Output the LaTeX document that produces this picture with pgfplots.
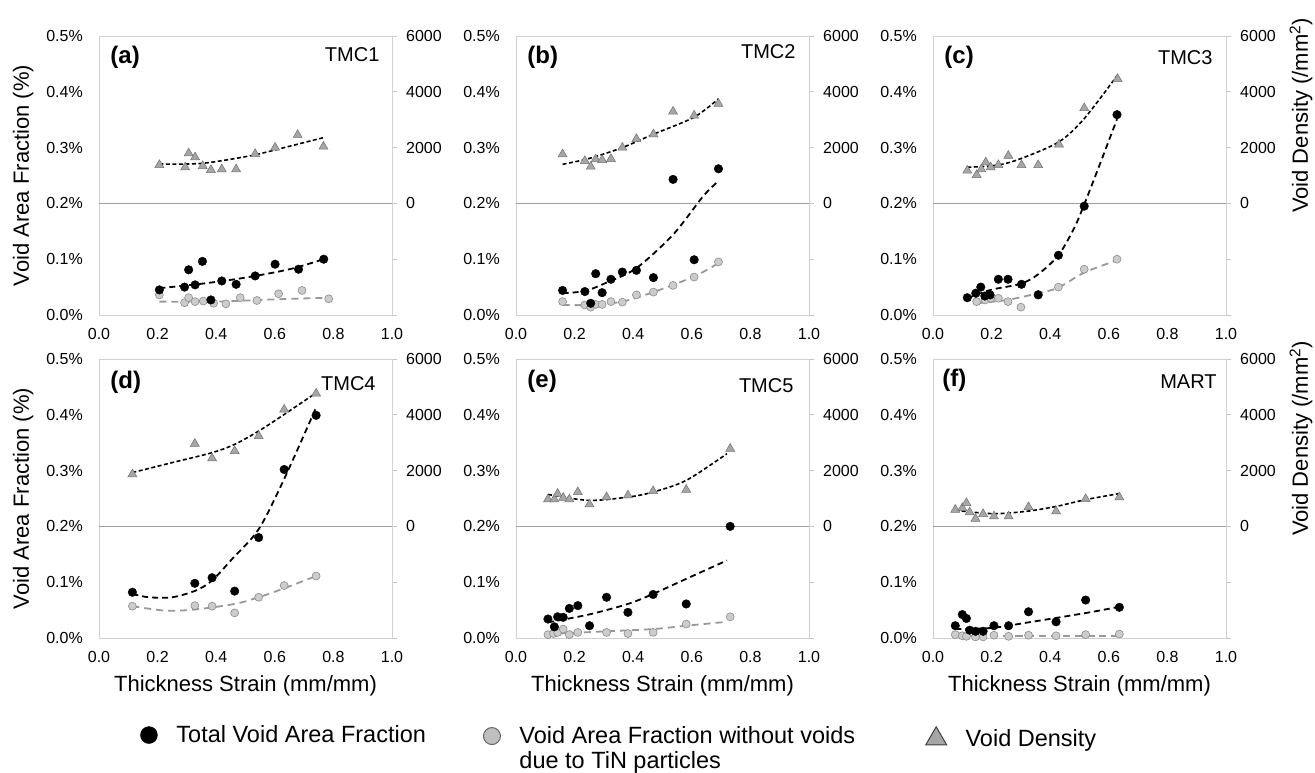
\documentclass[border=0pt]{standalone}
\usepackage{fontspec}
\setmainfont{Liberation Sans}
\usepackage{pgfplots}
\pgfplotsset{compat=1.18}

\newcommand{\tickfont}{\fontsize{16}{19}\selectfont}
\newcommand{\labfont}{\fontsize{22}{26}\selectfont}
\newcommand{\legfont}{\fontsize{23.5}{25}\selectfont}

\tikzset{
  plab/.style={anchor=west, font=\bfseries\fontsize{24}{28}\selectfont},
  pname/.style={anchor=east, font=\fontsize{20}{24}\selectfont},
}

\pgfplotsset{
  /pgf/number format/assume math mode=true,
  /pgf/number format/set thousands separator={},
  panel/.style={scale only axis, width=293pt, height=279pt, xmin=0, xmax=1, clip=false},
  leftax/.style={panel, ymin=0, ymax=0.5,
    ytick={0,0.1,0.2,0.3,0.4,0.5},
    yticklabel={\pgfmathprintnumber[fixed,fixed zerofill,precision=1]{\tick}\%},
    xtick={0,0.2,0.4,0.6,0.8,1},
    xticklabel={\pgfmathprintnumber[fixed,fixed zerofill,precision=1]{\tick}},
    major tick length=0pt,
    axis line style={draw=black!18, line width=0.8pt},
    tick label style={font=\tickfont},
    yticklabel style={inner sep=0pt}, yticklabel shift=16pt,
    xticklabel style={inner sep=0pt}, xticklabel shift=13pt,
    extra y ticks={0.2}, extra y tick labels={},
    extra y tick style={grid=major, major grid style={draw=black!38, line width=1pt}},
    label style={font=\labfont},
    ylabel style={at={(axis description cs:-0.259,0.5)}, anchor=center},
    xlabel style={at={(axis description cs:0.5,-0.172)}, anchor=center}},
  rightax/.style={panel, axis x line=none, axis y line*=right,
    ymin=-4000, ymax=6000,
    ytick={-4000,-2000,0,2000,4000,6000},
    yticklabels={,,0,2000,4000,6000},
    tick align=outside, major tick length=5pt,
    y axis line style={draw=black!18, line width=0.8pt},
    ytick style={draw=black!22, line width=0.8pt},
    yticklabel style={font=\tickfont, inner sep=0pt}, yticklabel shift=9pt,
    label style={font=\labfont},
    ylabel style={at={(axis description cs:1.256,0.715)}, anchor=center}},
  blk/.style={only marks, mark=*, mark size=4.3pt, mark options={draw=black, fill=black}},
  gry/.style={only marks, mark=*, mark size=4pt, mark options={draw=black!45, fill=black!20, line width=0.6pt}},
  tri/.style={only marks, mark=triangle*, mark size=5.2pt, mark options={draw=black!55, fill=black!35, line width=0.5pt}},
  blkfit/.style={no marks, smooth, black, line width=1.8pt, dash pattern=on 6pt off 4pt},
  gryfit/.style={no marks, smooth, black!40, line width=1.8pt, dash pattern=on 7pt off 5pt},
  trifit/.style={no marks, smooth, black, line width=1.6pt, dash pattern=on 4pt off 2.5pt},
  legax/.style={hide axis, scale only axis, width=1pt, height=1pt, xmin=0, xmax=1, ymin=0, ymax=1, anchor=center,
    legend image code/.code={\draw[##1] plot coordinates {(0pt,0pt)};},
    legend style={at={(0.5,0.5)}, anchor=north west, yshift=8.4pt, draw=none, fill=none, inner sep=0pt,
      font=\legfont, nodes={inner sep=0pt},
      /tikz/every odd column/.append style={column sep=19pt}}},
}

\begin{document}
\begin{tikzpicture}
\path[use as bounding box] (0,0) rectangle (1315pt,773pt);

% ---------- (a) TMC1 ----------
\begin{axis}[leftax, at={(99pt,458pt)}, ylabel={Void Area Fraction (\%)}]
\addplot[gry] coordinates {(0.206,0.036)(0.292,0.022)(0.306,0.031)(0.328,0.024)(0.356,0.025)(0.391,0.021)(0.433,0.020)(0.482,0.031)(0.539,0.026)(0.613,0.038)(0.693,0.044)(0.784,0.029)};
\addplot[blk] coordinates {(0.206,0.045)(0.292,0.050)(0.306,0.081)(0.328,0.054)(0.353,0.096)(0.382,0.027)(0.419,0.061)(0.468,0.055)(0.533,0.070)(0.601,0.091)(0.681,0.082)(0.767,0.100)};
\addplot[gryfit] coordinates {(0.206,0.024)(0.4,0.024)(0.6,0.028)(0.784,0.031)};
\addplot[blkfit] coordinates {(0.206,0.048)(0.35,0.056)(0.5,0.067)(0.65,0.082)(0.767,0.100)};
\node[plab] at (rel axis cs:0.027,0.925) {(a)};
\node[pname] at (rel axis cs:0.969,0.935) {TMC1};
\end{axis}
\begin{axis}[rightax, at={(99pt,458pt)}]
\addplot[tri] coordinates {(0.206,1377)(0.294,1293)(0.306,1796)(0.328,1653)(0.354,1341)(0.382,1198)(0.419,1222)(0.468,1222)(0.533,1772)(0.601,2000)(0.678,2455)(0.766,2036)};
\addplot[trifit] coordinates {(0.206,1413)(0.354,1437)(0.533,1737)(0.601,1916)(0.767,2359)};
\end{axis}

% ---------- (b) TMC2 ----------
\begin{axis}[leftax, at={(516pt,458pt)}]
\addplot[gry] coordinates {(0.159,0.024)(0.235,0.018)(0.255,0.014)(0.272,0.019)(0.294,0.019)(0.324,0.024)(0.363,0.023)(0.411,0.036)(0.469,0.041)(0.536,0.053)(0.608,0.068)(0.691,0.095)};
\addplot[blk] coordinates {(0.159,0.044)(0.235,0.042)(0.255,0.021)(0.272,0.074)(0.294,0.040)(0.324,0.064)(0.363,0.077)(0.411,0.080)(0.469,0.067)(0.536,0.243)(0.608,0.099)(0.691,0.262)};
\addplot[gryfit] coordinates {(0.159,0.018)(0.252,0.018)(0.363,0.024)(0.469,0.041)(0.608,0.069)(0.691,0.093)};
\addplot[blkfit] coordinates {(0.159,0.039)(0.235,0.043)(0.309,0.058)(0.411,0.084)(0.536,0.144)(0.639,0.213)(0.691,0.240)};
\node[plab] at (rel axis cs:0.027,0.925) {(b)};
\node[pname] at (rel axis cs:0.966,0.943) {TMC2};
\end{axis}
\begin{axis}[rightax, at={(516pt,458pt)}]
\addplot[tri] coordinates {(0.159,1760)(0.235,1521)(0.255,1317)(0.272,1581)(0.294,1557)(0.324,1593)(0.363,2000)(0.411,2311)(0.469,2479)(0.536,3293)(0.608,3150)(0.691,3569)};
\addplot[trifit] coordinates {(0.159,1401)(0.252,1617)(0.363,2000)(0.469,2479)(0.608,3090)(0.691,3749)};
\end{axis}

% ---------- (c) TMC3 ----------
\begin{axis}[leftax, at={(933pt,458pt)}]
\addplot[gry] coordinates {(0.149,0.024)(0.178,0.027)(0.197,0.030)(0.223,0.030)(0.256,0.024)(0.300,0.014)(0.359,0.037)(0.428,0.050)(0.516,0.082)(0.628,0.100)};
\addplot[blk] coordinates {(0.117,0.031)(0.146,0.039)(0.163,0.050)(0.177,0.034)(0.195,0.036)(0.223,0.064)(0.256,0.064)(0.302,0.055)(0.359,0.036)(0.428,0.107)(0.516,0.195)(0.628,0.359)};
\addplot[gryfit] coordinates {(0.149,0.021)(0.254,0.027)(0.359,0.039)(0.428,0.049)(0.516,0.076)(0.628,0.098)};
\addplot[blkfit] coordinates {(0.117,0.030)(0.197,0.045)(0.300,0.056)(0.359,0.073)(0.428,0.107)(0.482,0.156)(0.516,0.198)(0.573,0.275)(0.628,0.351)};
\node[plab] at (rel axis cs:0.027,0.925) {(c)};
\node[pname] at (rel axis cs:0.966,0.922) {TMC3};
\end{axis}
\begin{axis}[rightax, at={(933pt,458pt)}, ylabel={Void Density (/mm\textsuperscript{2})}]
\addplot[tri] coordinates {(0.117,1174)(0.149,1020)(0.165,1222)(0.180,1471)(0.197,1293)(0.223,1376)(0.257,1708)(0.302,1376)(0.359,1376)(0.430,2111)(0.516,3416)(0.630,4460)};
\addplot[trifit] coordinates {(0.117,1293)(0.223,1376)(0.302,1613)(0.430,2206)(0.516,3037)(0.630,4603)};
\end{axis}

% ---------- (d) TMC4 ----------
\begin{axis}[leftax, at={(99pt,135pt)}, ylabel={Void Area Fraction (\%)}, xlabel={Thickness Strain (mm/mm)}]
\addplot[gry] coordinates {(0.114,0.057)(0.327,0.058)(0.386,0.057)(0.463,0.045)(0.545,0.073)(0.632,0.094)(0.741,0.111)};
\addplot[blk] coordinates {(0.114,0.082)(0.327,0.098)(0.386,0.108)(0.463,0.084)(0.545,0.180)(0.632,0.302)(0.741,0.399)};
\addplot[gryfit] coordinates {(0.114,0.057)(0.227,0.049)(0.327,0.051)(0.463,0.061)(0.545,0.073)(0.632,0.089)(0.741,0.111)};
\addplot[blkfit] coordinates {(0.114,0.079)(0.170,0.073)(0.250,0.073)(0.330,0.085)(0.386,0.103)(0.455,0.142)(0.545,0.195)(0.632,0.285)(0.741,0.413)};
\node[plab] at (rel axis cs:0.027,0.918) {(d)};
\node[pname] at (rel axis cs:0.956,0.911) {TMC4};
\end{axis}
\begin{axis}[rightax, at={(99pt,135pt)}]
\addplot[tri] coordinates {(0.114,1869)(0.327,2964)(0.386,2440)(0.463,2702)(0.545,3238)(0.632,4190)(0.741,4762)};
\addplot[trifit] coordinates {(0.114,1929)(0.250,2286)(0.386,2643)(0.463,2940)(0.545,3417)(0.632,4012)(0.741,4786)};
\end{axis}

% ---------- (e) TMC5 ----------
\begin{axis}[leftax, at={(516pt,135pt)}, xlabel={Thickness Strain (mm/mm)}]
\addplot[gry] coordinates {(0.109,0.006)(0.128,0.008)(0.142,0.010)(0.161,0.016)(0.182,0.006)(0.211,0.010)(0.309,0.010)(0.382,0.008)(0.468,0.010)(0.581,0.025)(0.731,0.038)};
\addplot[blk] coordinates {(0.109,0.034)(0.131,0.020)(0.142,0.038)(0.161,0.037)(0.182,0.053)(0.211,0.058)(0.251,0.022)(0.309,0.073)(0.382,0.046)(0.468,0.078)(0.581,0.061)(0.731,0.200)};
\addplot[gryfit] coordinates {(0.109,0.007)(0.309,0.012)(0.468,0.016)(0.581,0.022)(0.720,0.029)};
\addplot[blkfit] coordinates {(0.109,0.028)(0.248,0.042)(0.382,0.061)(0.468,0.079)(0.581,0.106)(0.720,0.139)};
\node[plab] at (rel axis cs:0.027,0.921) {(e)};
\node[pname] at (rel axis cs:0.959,0.903) {TMC5};
\end{axis}
\begin{axis}[rightax, at={(516pt,135pt)}]
\addplot[tri] coordinates {(0.109,968)(0.131,968)(0.142,1171)(0.161,1027)(0.182,968)(0.211,1231)(0.251,789)(0.309,1051)(0.382,1111)(0.468,1266)(0.581,1314)(0.731,2784)};
\addplot[trifit] coordinates {(0.109,1147)(0.248,932)(0.382,1051)(0.468,1231)(0.581,1649)(0.720,2605)};
\end{axis}

% ---------- (f) MART ----------
\begin{axis}[leftax, at={(933pt,135pt)}, xlabel={Thickness Strain (mm/mm)}]
\addplot[gry] coordinates {(0.076,0.006)(0.100,0.004)(0.114,0.003)(0.145,0.002)(0.171,0.002)(0.208,0.005)(0.258,0.003)(0.326,0.005)(0.420,0.004)(0.521,0.006)(0.636,0.007)};
\addplot[blk] coordinates {(0.076,0.022)(0.100,0.042)(0.114,0.035)(0.125,0.014)(0.145,0.012)(0.171,0.012)(0.208,0.022)(0.258,0.022)(0.326,0.047)(0.420,0.029)(0.521,0.068)(0.636,0.055)};
\addplot[gryfit] coordinates {(0.076,0.004)(0.636,0.004)};
\addplot[blkfit] coordinates {(0.076,0.016)(0.200,0.018)(0.326,0.028)(0.524,0.045)(0.636,0.056)};
\node[plab] at (rel axis cs:0.020,0.925) {(f)};
\node[pname] at (rel axis cs:0.980,0.918) {MART};
\end{axis}
\begin{axis}[rightax, at={(933pt,135pt)}, ylabel={Void Density (/mm\textsuperscript{2})}]
\addplot[tri] coordinates {(0.076,600)(0.100,659)(0.114,839)(0.125,504)(0.145,276)(0.171,444)(0.208,360)(0.258,360)(0.326,695)(0.420,540)(0.521,983)(0.636,1043)};
\addplot[trifit] coordinates {(0.076,576)(0.205,456)(0.319,540)(0.422,719)(0.521,959)(0.636,1175)};
\end{axis}

% ---------- legend ----------
\begin{axis}[legax, at={(149pt,39pt)}, legend style={xshift=-8.75pt}]
\addlegendimage{only marks, mark=*, mark size=8.5pt, mark options={draw=black, fill=black}}
\addlegendentry{Total Void Area Fraction}
\end{axis}
\begin{axis}[legax, at={(492pt,38pt)}, legend style={xshift=-8.75pt}]
\addlegendimage{only marks, mark=*, mark size=8.5pt, mark options={draw=black!60, fill=black!25, line width=1pt}}
\addlegendentry{\parbox[t]{340pt}{Void Area Fraction without voids\\due to TiN particles}}
\end{axis}
\begin{axis}[legax, at={(936pt,38pt)}, legend style={xshift=-10.4pt}]
\addlegendimage{only marks, mark=triangle*, mark size=12pt, mark options={draw=black!75, fill=black!35, line width=1pt}}
\addlegendentry{Void Density}
\end{axis}
\end{tikzpicture}
\end{document}
